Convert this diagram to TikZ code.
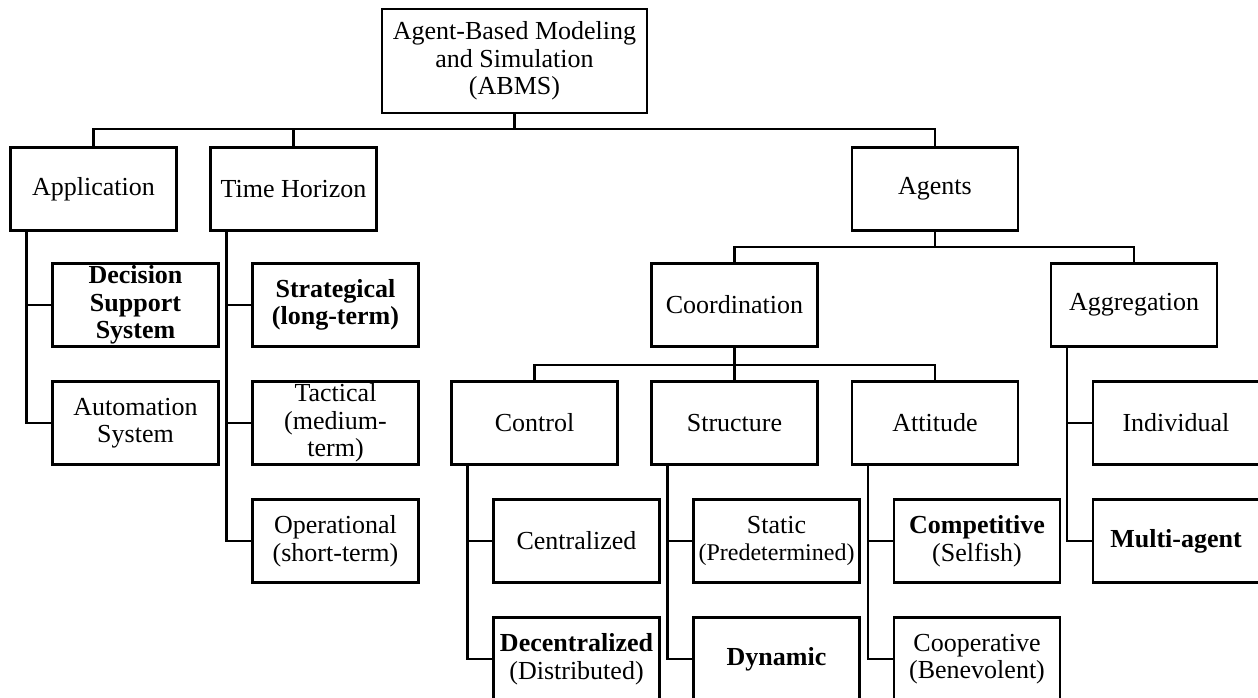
\documentclass[tikz,border=0pt]{standalone}
\usepackage{fontspec}
\setmainfont{Liberation Serif}
\tikzset{
  box/.style={draw, line width=2.4pt, minimum width=166pt, minimum height=83pt,
    inner sep=0pt, align=center, font=\fontsize{26}{27.5}\selectfont},
  boldbox/.style={box, font=\fontsize{26}{27.5}\selectfont\bfseries},
  link/.style={line width=2.4pt}
}
\begin{document}
\begin{tikzpicture}[x=1pt,y=-1pt]
      \useasboundingbox (0,0) rectangle (1258,698);
      \draw
        (514.5,61) node[box,minimum width=265pt,minimum height=104pt] (abms){Agent-Based Modeling\\and Simulation\\(ABMS)}
        (93.5,189) node[box] (app){Application}
        (293.5,189) node[box] (time){Time Horizon}
        (935,189) node[box] (agents){Agents}
        (135.5,305) node[boldbox] (dss){Decision\\Support\\System}
        (135.5,423) node[box] (auto){Automation\\System}
        (335.5,305) node[boldbox] (strat){Strategical\\(long-term)}
        (335.5,423) node[box] (tact){Tactical\\(medium-\\term)}
        (335.5,541) node[box] (oper){Operational\\(short-term)}
        (734.5,305) node[box] (coord){Coordination}
        (1134,305) node[box] (aggr){Aggregation}
        (534.5,423) node[box] (control){Control}
        (734.5,423) node[box] (struct){Structure}
        (935,423) node[box] (attit){Attitude}
        (1176,423) node[box] (indiv){Individual}
        (1176,541) node[boldbox] (multi){Multi-agent}
        (576.5,541) node[box] (central){Centralized}
        (576.5,659) node[box] (decentral){\textbf{Decentralized}\\(Distributed)}
        (776.5,541) node[box] (static){Static\\{\fontsize{24}{27.5}\selectfont(Predetermined)}}
        (776.5,659) node[boldbox] (dynamic){Dynamic}
        (977,541) node[box] (compet){\textbf{Competitive}\\(Selfish)}
        (977,659) node[box] (coop){Cooperative\\(Benevolent)};
      \coordinate (topbus) at (514.5,129);
      \coordinate (agbus) at (935,247);
      \coordinate (cobus) at (734.5,365);
      \begin{scope}[link]
        \draw (abms) -- (topbus);
        \draw (app) |- (topbus) -| (agents);
        \draw (time) -- (time |- topbus);
        \draw (agents) -- (agbus);
        \draw (coord) |- (agbus) -| (aggr);
        \draw (coord) -- (cobus);
        \draw (control) |- (cobus) -| (attit);
        \draw (struct) -- (cobus);
        \draw ([xshift=17pt]app.south west) |- (dss);
        \draw ([xshift=17pt]app.south west) |- (auto);
        \draw ([xshift=17pt]time.south west) |- (strat);
        \draw ([xshift=17pt]time.south west) |- (tact);
        \draw ([xshift=17pt]time.south west) |- (oper);
        \draw ([xshift=17pt]control.south west) |- (central);
        \draw ([xshift=17pt]control.south west) |- (decentral);
        \draw ([xshift=17pt]struct.south west) |- (static);
        \draw ([xshift=17pt]struct.south west) |- (dynamic);
        \draw ([xshift=17pt]attit.south west) |- (compet);
        \draw ([xshift=17pt]attit.south west) |- (coop);
        \draw ([xshift=17pt]aggr.south west) |- (indiv);
        \draw ([xshift=17pt]aggr.south west) |- (multi);
      \end{scope}
    \end{tikzpicture}
\end{document}
